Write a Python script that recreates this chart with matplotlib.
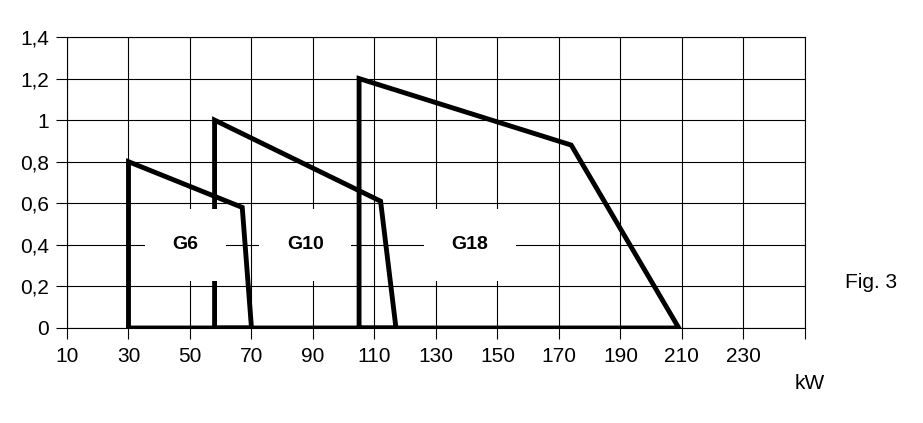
import matplotlib.pyplot as plt

plt.rcParams['font.family'] = ['Liberation Sans', 'DejaVu Sans']

g6_x = [30, 30, 67, 70, 30]
g6_y = [0, 0.8, 0.58, 0, 0]
g10_x = [58, 58, 112, 117, 58]
g10_y = [0, 1.0, 0.61, 0, 0]
g18_x = [105, 105, 174, 209, 105]
g18_y = [0, 1.2, 0.88, 0, 0]
labels = [("G6", 48.5, 0.3), ("G10", 87.5, 0.3), ("G18", 141, 0.3)]
xticks = list(range(10, 231, 20))
yticks = [0, 0.2, 0.4, 0.6, 0.8, 1, 1.2, 1.4]
ytick_labels = ["0", "0,2", "0,4", "0,6", "0,8", "1", "1,2", "1,4"]

fig = plt.figure(figsize=(9.23, 4.23), dpi=100)
ax = fig.add_axes([0.0726, 0.2246, 0.7994, 0.688])

for xs, ys in [(g6_x, g6_y), (g10_x, g10_y), (g18_x, g18_y)]:
    ax.plot(xs, ys, color="black", lw=3.5, solid_joinstyle="miter", zorder=3)

for text, x, y in labels:
    ax.text(x, y + 0.1, text, ha="center", va="center", fontsize=14, fontweight="bold",
            zorder=4, bbox=dict(facecolor="white", edgecolor="none", pad=20))

ax.set_xlim(10, 250)
ax.set_ylim(0, 1.4)
ax.set_xticks(xticks + [250])
ax.set_xticklabels([str(v) for v in xticks] + [""])
ax.set_yticks(yticks)
ax.set_yticklabels(ytick_labels)
ax.grid(True, color="black", lw=0.8)
ax.tick_params(direction="out", length=8, width=0.8, labelsize=15, pad=5)
ax.tick_params(axis="x", pad=6)
for s in ax.spines.values():
    s.set_linewidth(0.8)

fig.text(845 / 923, 1 - 283 / 423, "Fig. 3", fontsize=15, ha="left", va="center")
fig.text(795 / 923, 1 - 383 / 423, "kW", fontsize=15, ha="left", va="center")

fig.savefig("out.png", dpi=100)
